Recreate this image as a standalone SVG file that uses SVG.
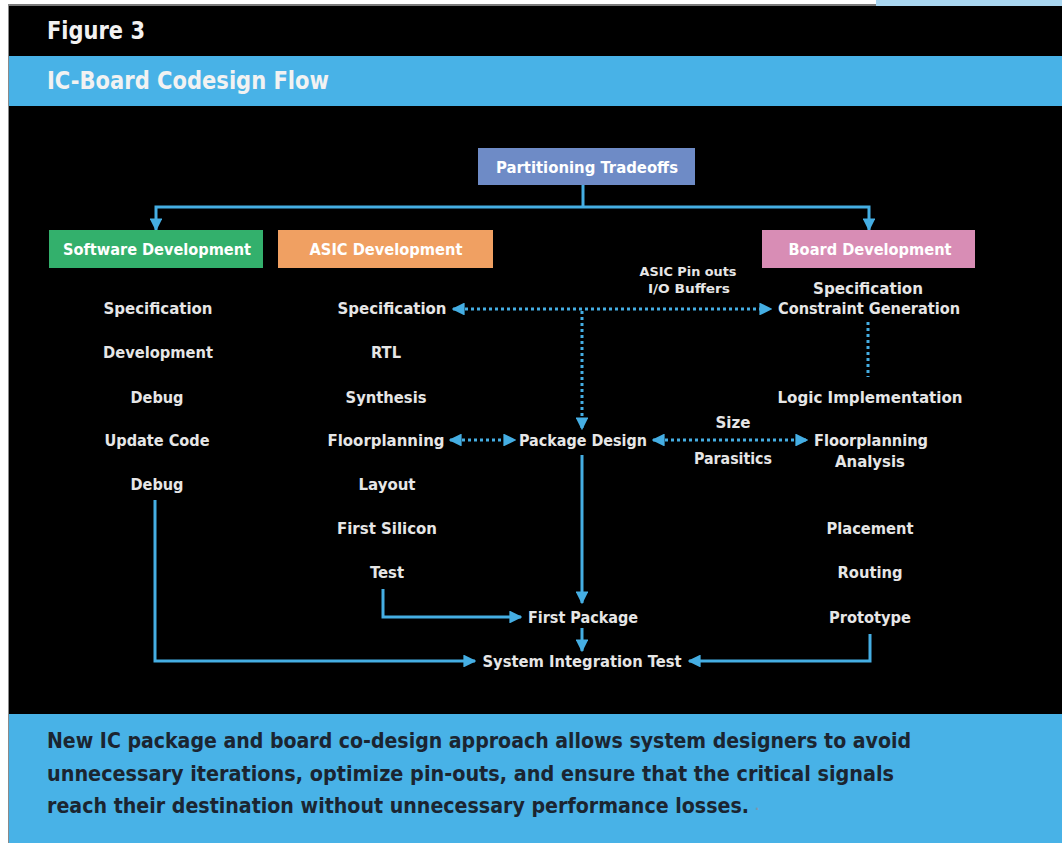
<svg xmlns="http://www.w3.org/2000/svg" width="1062" height="843" viewBox="0 0 1062 843">
<defs>
<style>
.t{font-family:"DejaVu Sans Condensed","DejaVu Sans","Liberation Sans",sans-serif;font-weight:bold;fill:#e6e6e6;font-size:16px;text-anchor:middle;dominant-baseline:central}
.bt{fill:#ffffff}
.sm{font-size:13px}
.hd{font-family:"DejaVu Sans Condensed","DejaVu Sans","Liberation Sans",sans-serif;font-weight:bold;fill:#f2f2f2;font-size:24px;dominant-baseline:central}
.cap{font-family:"DejaVu Sans Condensed","DejaVu Sans","Liberation Sans",sans-serif;font-weight:bold;fill:#1b2531;font-size:21px;dominant-baseline:central}
.sol{fill:none;stroke:#45aee3;stroke-width:3}
.dot{fill:none;stroke:#45aee3;stroke-width:3;stroke-dasharray:3 3}
.box{stroke:none}
</style>
<marker id="ah" viewBox="0 0 10 10" refX="9" refY="5" markerWidth="4.3" markerHeight="4.3" orient="auto-start-reverse" markerUnits="strokeWidth">
<path d="M0,0 L10,5 L0,10 z" fill="#45aee3"/>
</marker>
</defs>
<rect x="0" y="0" width="1062" height="843" fill="#ffffff"/>
<rect x="876" y="0" width="186" height="6" fill="#a9d6f0"/>
<rect x="8" y="4" width="868" height="2" fill="#7a7a7a"/>
<rect x="8" y="4" width="1.5" height="839" fill="#8a8a8a"/>
<rect x="9" y="6" width="1053" height="51" fill="#000000"/>
<rect x="9" y="56" width="1053" height="51" fill="#48b2e7"/>
<rect x="9" y="106" width="1053" height="609" fill="#000000"/>
<rect x="9" y="714" width="1053" height="129" fill="#48b2e7"/>
<text class="hd" x="47" y="31" textLength="98" lengthAdjust="spacingAndGlyphs">Figure 3</text>
<text class="hd" x="47" y="81" textLength="282" lengthAdjust="spacingAndGlyphs">IC-Board Codesign Flow</text>

<g id="connectors">
<path class="sol" d="M583,185 V207"/>
<path class="sol" d="M156,230 V207 H869 V230" marker-start="url(#ah)" marker-end="url(#ah)"/>
<path class="dot" d="M453,309 H771" marker-start="url(#ah)" marker-end="url(#ah)"/>
<path class="dot" d="M582,311 V429" marker-end="url(#ah)"/>
<path class="dot" d="M868,322 V377"/>
<path class="dot" d="M450,440 H515" marker-start="url(#ah)" marker-end="url(#ah)"/>
<path class="dot" d="M653,440 H807" marker-start="url(#ah)" marker-end="url(#ah)"/>
<path class="sol" d="M582,455 V603" marker-end="url(#ah)"/>
<path class="sol" d="M383,589 V617 H521" marker-end="url(#ah)"/>
<path class="sol" d="M582,628 V651" marker-end="url(#ah)"/>
<path class="sol" d="M155,500 V661 H475" marker-end="url(#ah)"/>
<path class="sol" d="M870,634 V661 H689" marker-end="url(#ah)"/>
</g>

<g id="partitioning">
<rect class="box" x="478" y="148" width="217" height="37" fill="#6e8bc6"/>
<text class="t bt" x="587" y="167" textLength="182" lengthAdjust="spacingAndGlyphs">Partitioning Tradeoffs</text>
</g>
<g id="software">
<rect class="box" x="49" y="230" width="214" height="38" fill="#33b06c"/>
<text class="t bt" x="157" y="249" textLength="188" lengthAdjust="spacingAndGlyphs">Software Development</text>
</g>
<g id="asic">
<rect class="box" x="278" y="230" width="215" height="38" fill="#f0a062"/>
<text class="t bt" x="386" y="249" textLength="153" lengthAdjust="spacingAndGlyphs">ASIC Development</text>
</g>
<g id="board">
<rect class="box" x="762" y="230" width="213" height="38" fill="#d88db5"/>
<text class="t bt" x="870" y="249" textLength="163" lengthAdjust="spacingAndGlyphs">Board Development</text>
</g>

<g id="software-steps">
<text class="t" x="158" y="308" textLength="109" lengthAdjust="spacingAndGlyphs">Specification</text>
<text class="t" x="158" y="352" textLength="110" lengthAdjust="spacingAndGlyphs">Development</text>
<text class="t" x="157" y="397" textLength="53" lengthAdjust="spacingAndGlyphs">Debug</text>
<text class="t" x="157" y="440" textLength="105" lengthAdjust="spacingAndGlyphs">Update Code</text>
<text class="t" x="157" y="484" textLength="53" lengthAdjust="spacingAndGlyphs">Debug</text>
</g>
<g id="asic-steps">
<text class="t" x="392" y="308" textLength="109" lengthAdjust="spacingAndGlyphs">Specification</text>
<text class="t" x="386" y="352" textLength="30" lengthAdjust="spacingAndGlyphs">RTL</text>
<text class="t" x="386" y="397" textLength="81" lengthAdjust="spacingAndGlyphs">Synthesis</text>
<text class="t" x="386" y="440" textLength="117" lengthAdjust="spacingAndGlyphs">Floorplanning</text>
<text class="t" x="387" y="484" textLength="57" lengthAdjust="spacingAndGlyphs">Layout</text>
<text class="t" x="387" y="528" textLength="100" lengthAdjust="spacingAndGlyphs">First Silicon</text>
<text class="t" x="387" y="572" textLength="34" lengthAdjust="spacingAndGlyphs">Test</text>
</g>
<g id="board-steps">
<text class="t" x="868" y="288" textLength="110" lengthAdjust="spacingAndGlyphs">Specification</text>
<text class="t" x="869" y="308" textLength="182" lengthAdjust="spacingAndGlyphs">Constraint Generation</text>
<text class="t" x="870" y="397" textLength="185" lengthAdjust="spacingAndGlyphs">Logic Implementation</text>
<text class="t" x="871" y="440" textLength="114" lengthAdjust="spacingAndGlyphs">Floorplanning</text>
<text class="t" x="870" y="461" textLength="70" lengthAdjust="spacingAndGlyphs">Analysis</text>
<text class="t" x="870" y="528" textLength="87" lengthAdjust="spacingAndGlyphs">Placement</text>
<text class="t" x="870" y="572" textLength="65" lengthAdjust="spacingAndGlyphs">Routing</text>
<text class="t" x="870" y="617" textLength="82" lengthAdjust="spacingAndGlyphs">Prototype</text>
</g>
<g id="center-steps">
<text class="t sm" x="688" y="271" textLength="97" lengthAdjust="spacingAndGlyphs">ASIC Pin outs</text>
<text class="t sm" x="689" y="288" textLength="82" lengthAdjust="spacingAndGlyphs">I/O Buffers</text>
<text class="t" x="583" y="440" textLength="128" lengthAdjust="spacingAndGlyphs">Package Design</text>
<text class="t" x="733" y="422" textLength="35" lengthAdjust="spacingAndGlyphs">Size</text>
<text class="t" x="733" y="458" textLength="78" lengthAdjust="spacingAndGlyphs">Parasitics</text>
<text class="t" x="583" y="617" textLength="110" lengthAdjust="spacingAndGlyphs">First Package</text>
<text class="t" x="582" y="661" textLength="199" lengthAdjust="spacingAndGlyphs">System Integration Test</text>
</g>

<text class="cap" x="47" y="741" textLength="864" lengthAdjust="spacingAndGlyphs">New IC package and board co-design approach allows system designers to avoid</text>
<text class="cap" x="47" y="774" textLength="847" lengthAdjust="spacingAndGlyphs">unnecessary iterations, optimize pin-outs, and ensure that the critical signals</text>
<text class="cap" x="47" y="806" textLength="702" lengthAdjust="spacingAndGlyphs">reach their destination without unnecessary performance losses.</text>
<text class="cap" x="755" y="806" style="font-size:12px;fill:#7f98ad">.</text>
</svg>
